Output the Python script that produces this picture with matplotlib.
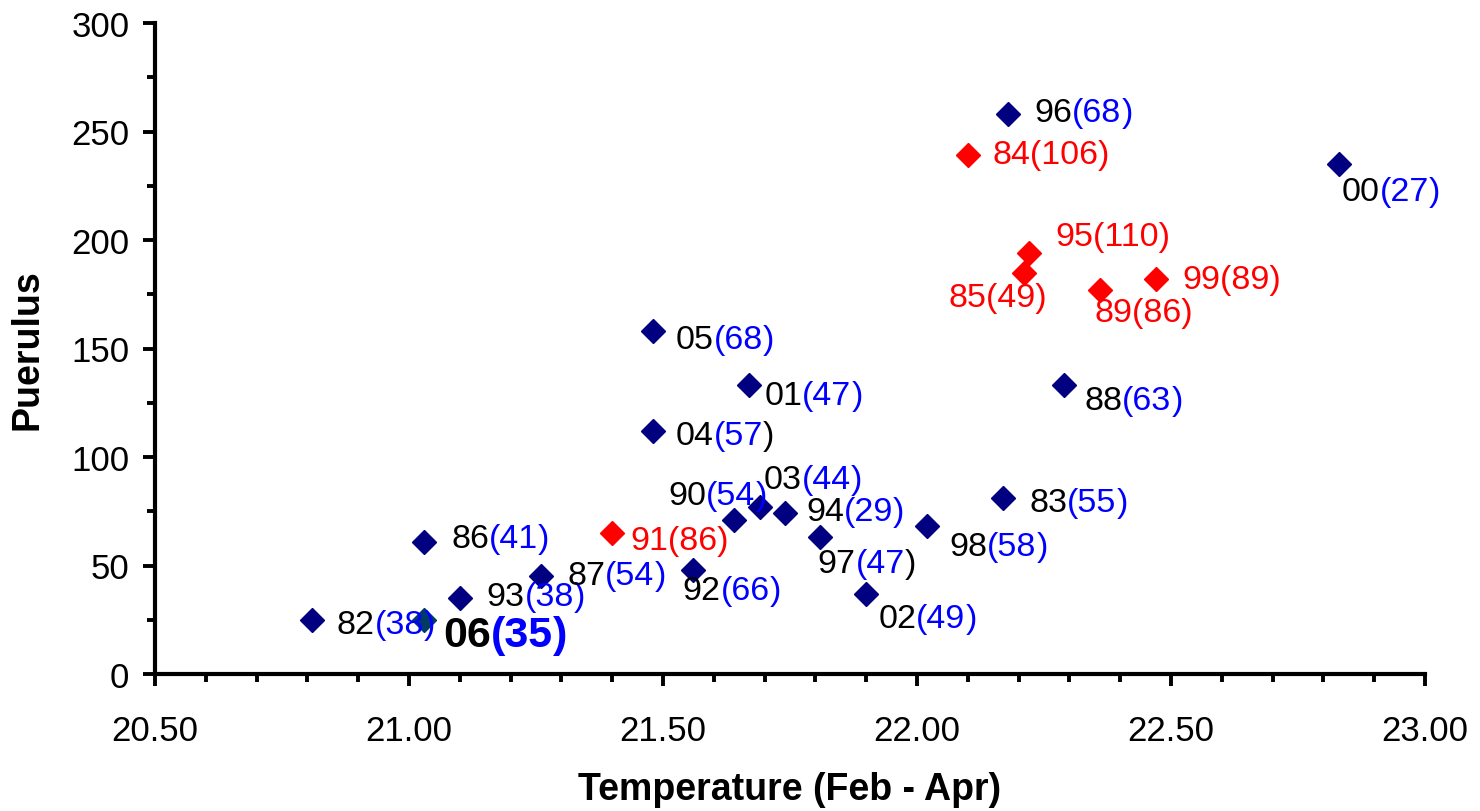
import matplotlib
matplotlib.use('Agg')
import matplotlib.pyplot as plt
from matplotlib.ticker import MultipleLocator, FormatStrFormatter

plt.rcParams['font.family'] = ['Liberation Sans', 'DejaVu Sans']

# season (year), mean temperature Feb-Apr, puerulus settlement, bracketed count
years = ['82', '06', '86', '93', '87', '91', '05', '04', '92', '90', '01', '03', '94',
         '97', '02', '98', '83', '96', '84', '85', '95', '89', '99', '88', '00']
temperature = [20.81, 21.03, 21.03, 21.10, 21.26, 21.40, 21.48, 21.48, 21.56, 21.64,
               21.67, 21.69, 21.74, 21.81, 21.90, 22.02, 22.17, 22.18, 22.10, 22.21,
               22.22, 22.36, 22.47, 22.29, 22.83]
puerulus = [25, 25, 61, 35, 45, 65, 158, 112, 48, 71, 133, 77, 74, 63, 37, 68, 81,
            258, 239, 185, 194, 177, 182, 133, 235]
counts = [38, 35, 41, 38, 54, 86, 68, 57, 66, 54, 47, 44, 29, 47, 49, 58, 55, 68,
          106, 49, 110, 86, 89, 63, 27]
red_years = ['84', '85', '89', '91', '95', '99']
highlight_year = '06'
black_close_years = ['04', '97']

# label placement: pixel offset of the label's left edge / vertical centre (dy down)
label_offsets = {
    '82': (24, 5), '06': (19, 15), '86': (27, -3), '93': (27, -2), '87': (26, -1),
    '91': (18, 8), '05': (23, 8), '04': (23, 5), '92': (-11, 21), '90': (-66, -24),
    '01': (15, 10), '03': (4, -27), '94': (21, -2), '97': (-3, 26), '02': (12, 25),
    '98': (22, 20), '83': (26, 4), '96': (26, -2), '84': (25, -1), '85': (-75, 25),
    '95': (27, -17), '89': (-5, 23), '99': (27, 0), '88': (20, 15), '00': (3, 27),
}

NAVY = '#000080'
RED = '#FF0000'
BLUE = '#0000FF'
TEAL = '#023A66'


def colored_label(ax, x, y, parts, offset, size, weight):
    """Draw a label made of differently coloured pieces, left to right."""
    dx, dy = offset
    t = ax.annotate(parts[0][0], (x, y), xytext=(dx, -dy), textcoords='offset pixels',
                    ha='left', va='center', color=parts[0][1],
                    fontsize=size, fontweight=weight)
    for text, color in parts[1:]:
        t = ax.annotate(text, xy=(1, 0), xycoords=t, ha='left', va='bottom',
                        color=color, fontsize=size, fontweight=weight)


fig = plt.figure(figsize=(14.8, 8.12), dpi=100)
ax = fig.add_axes([155 / 1480, 1 - 675 / 812, 1270 / 1480, 651 / 812])

for yr, t, p, n in zip(years, temperature, puerulus, counts):
    if yr in red_years:
        mcolor = RED
        parts = [(f"{yr}({n})", RED)]
    else:
        mcolor = TEAL if yr == highlight_year else NAVY
        close = 'black' if yr in black_close_years else BLUE
        parts = [(yr, 'black'), (f"({n}", BLUE), (")", close)]
    ax.plot(t, p, marker='D', markersize=12.3, color=mcolor, linestyle='none')
    if yr == highlight_year:
        colored_label(ax, t, p, parts, label_offsets[yr], 31, 'bold')
    else:
        colored_label(ax, t, p, parts, label_offsets[yr], 24.5, 'normal')

ax.set_xlim(20.5, 23.0)
ax.set_ylim(0, 300)
ax.xaxis.set_major_locator(MultipleLocator(0.5))
ax.xaxis.set_minor_locator(MultipleLocator(0.1))
ax.xaxis.set_major_formatter(FormatStrFormatter('%.2f'))
ax.yaxis.set_major_locator(MultipleLocator(50))
ax.yaxis.set_minor_locator(MultipleLocator(25))

for side in ['top', 'right']:
    ax.spines[side].set_visible(False)
for side in ['left', 'bottom']:
    ax.spines[side].set_linewidth(3)

ax.tick_params(which='major', direction='out', length=8.5, width=2.8, labelsize=25)
ax.tick_params(which='minor', direction='out', length=6, width=2.8)
ax.tick_params(axis='x', which='major', pad=20)
ax.tick_params(axis='y', which='major', pad=10)

ax.set_xlabel("Temperature (Feb - Apr)", fontsize=27, fontweight='bold')
ax.xaxis.set_label_coords(0.5, (675 - 790) / 651)
ax.xaxis.label.set_va('center')
ax.set_ylabel("Puerulus", fontsize=27, fontweight='bold')
ax.yaxis.set_label_coords((28 - 155) / 1270, 0.5)
ax.yaxis.label.set_va('center')
ax.yaxis.label.set_ha('center')

fig.savefig('out.png', dpi=100)
